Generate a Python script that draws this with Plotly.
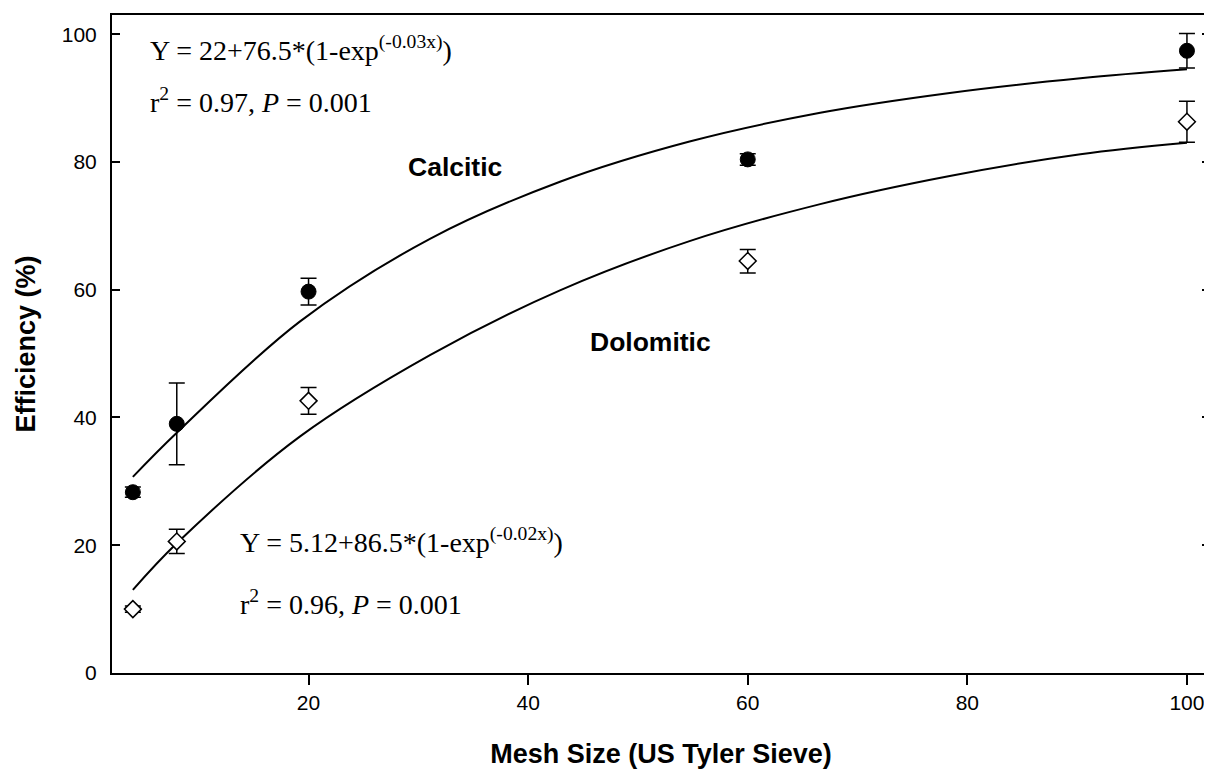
import plotly.graph_objects as go

# Observed data
mesh = [4, 8, 20, 60, 100]
calcitic = [28.3, 39.0, 59.7, 80.4, 97.4]
calcitic_err_plus = [0.8, 6.4, 2.1, 0.9, 2.7]
calcitic_err_minus = [0.8, 6.4, 2.1, 0.9, 2.7]
dolomitic = [10.0, 20.6, 42.6, 64.5, 86.3]
dolomitic_err_plus = [0.5, 1.9, 2.1, 1.8, 3.2]
dolomitic_err_minus = [0.5, 1.9, 2.1, 1.9, 3.2]

# Fitted curves
fit_x = [4, 8, 19.2, 31.1, 42.9, 54.7, 66.6, 78.4, 90.3, 100]
fit_calcitic = [30.7, 37.6, 55.0, 68.0, 76.9, 83.2, 87.7, 90.8, 93.1, 94.5]
fit_dolomitic = [13.0, 20.3, 37.0, 49.8, 59.9, 67.6, 73.4, 77.8, 81.2, 83.0]

x_ticks = [20, 40, 60, 80, 100]
y_ticks = [0, 20, 40, 60, 80, 100]

SANS = "Liberation Sans, Arial, sans-serif"
SERIF = "Liberation Serif, Times New Roman, serif"

fig = go.Figure()

fig.add_trace(go.Scatter(x=fit_x, y=fit_calcitic, mode="lines",
                         line=dict(color="black", width=2, shape="spline"),
                         hoverinfo="skip", showlegend=False))
fig.add_trace(go.Scatter(x=fit_x, y=fit_dolomitic, mode="lines",
                         line=dict(color="black", width=2, shape="spline"),
                         hoverinfo="skip", showlegend=False))

fig.add_trace(go.Scatter(
    x=mesh, y=calcitic, mode="markers", name="Calcitic",
    marker=dict(symbol="circle", size=15, color="black",
                line=dict(color="black", width=1)),
    error_y=dict(type="data", array=calcitic_err_plus, arrayminus=calcitic_err_minus,
                 color="black", thickness=1.5, width=8),
    showlegend=False))

fig.add_trace(go.Scatter(
    x=mesh, y=dolomitic, mode="markers", name="Dolomitic",
    marker=dict(symbol="diamond", size=13, color="white",
                line=dict(color="black", width=1.5)),
    error_y=dict(type="data", array=dolomitic_err_plus, arrayminus=dolomitic_err_minus,
                 color="black", thickness=1.5, width=8),
    showlegend=False))

annotations = [
    dict(x=5.4, y=97.8, text="Y = 22+76.5*(1-exp<sup>(-0.03x)</sup>)",
         font=dict(family=SERIF, size=28, color="black"), xanchor="left"),
    dict(x=5.4, y=89.6, text="r<sup>2</sup> = 0.97, <i>P</i> = 0.001",
         font=dict(family=SERIF, size=28, color="black"), xanchor="left"),
    dict(x=13.6, y=20.7, text="Y = 5.12+86.5*(1-exp<sup>(-0.02x)</sup>)",
         font=dict(family=SERIF, size=28, color="black"), xanchor="left"),
    dict(x=13.6, y=11.1, text="r<sup>2</sup> = 0.96, <i>P</i> = 0.001",
         font=dict(family=SERIF, size=28, color="black"), xanchor="left"),
    dict(x=33.3, y=79.2, text="<b>Calcitic</b>",
         font=dict(family=SANS, size=26.5, color="black")),
    dict(x=51.1, y=51.8, text="<b>Dolomitic</b>",
         font=dict(family=SANS, size=26.5, color="black")),
]
for a in annotations:
    a.update(xref="x", yref="y", showarrow=False, yanchor="middle")
fig.update_layout(annotations=annotations)

fig.update_xaxes(range=[2.1, 102.1], tickvals=x_ticks, ticks="outside", ticklen=10,
                 tickwidth=1.5, tickcolor="black", showline=True, linecolor="black",
                 linewidth=2, mirror=True, showgrid=False, zeroline=False,
                 automargin=False,
                 tickfont=dict(family=SANS, size=21, color="black"),
                 title=dict(text="<b>Mesh Size (US Tyler Sieve)</b>",
                            font=dict(family=SANS, size=27, color="black"), standoff=35))
fig.update_yaxes(range=[0, 103], tickvals=y_ticks, ticks="inside", ticklen=8,
                 tickwidth=1.5, tickcolor="black", showline=True, linecolor="black",
                 linewidth=2, mirror="ticks", showgrid=False, zeroline=False,
                 automargin=False, ticklabelstandoff=9,
                 tickfont=dict(family=SANS, size=21, color="black"),
                 title=dict(text="<b>Efficiency (%)</b>",
                            font=dict(family=SANS, size=27, color="black"), standoff=18))

# The page body adds an 8px offset, so the figure is sized and margined to compensate
fig.update_layout(width=1204, height=761, plot_bgcolor="white", paper_bgcolor="white",
                  margin=dict(l=104, r=2, t=7, b=96), showlegend=False)

fig.write_html("out.html")
